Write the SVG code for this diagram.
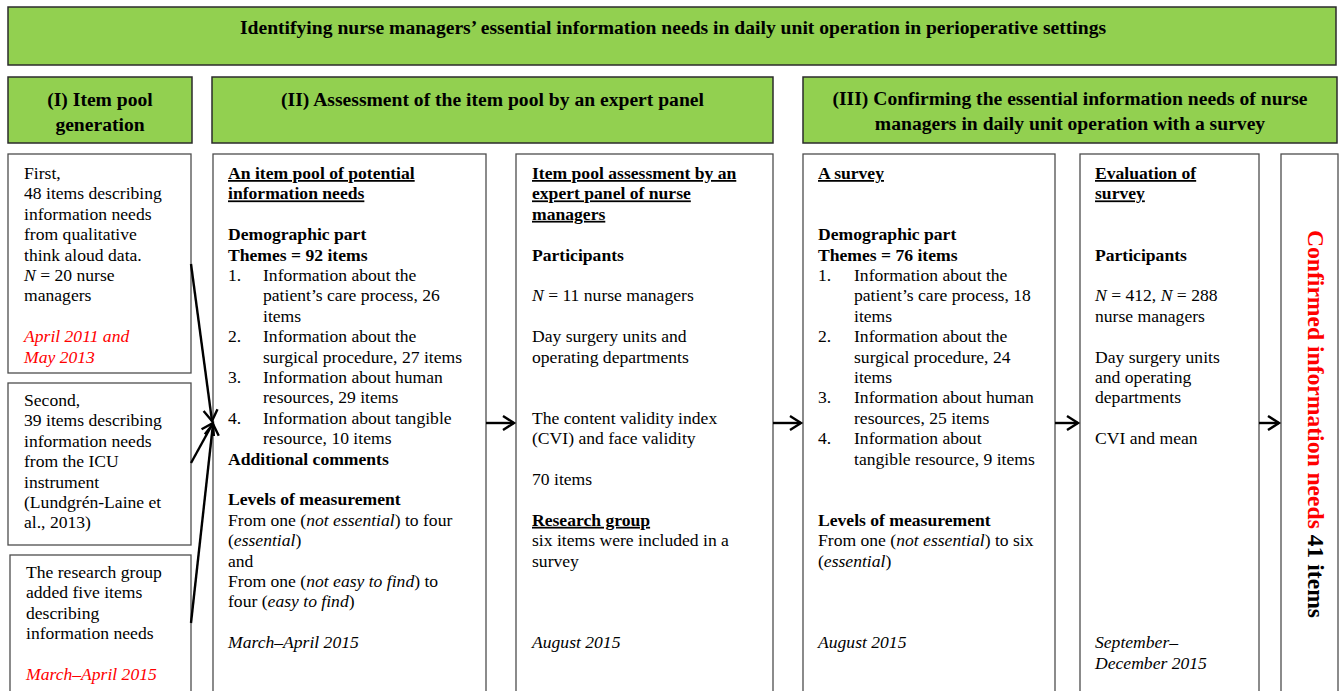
<svg xmlns="http://www.w3.org/2000/svg" width="1339" height="691" viewBox="0 0 1339 691">
<style>
.t{font-family:"Liberation Serif","Times New Roman",serif;font-size:17.6px;fill:#000}
.h{font-family:"Liberation Serif","Times New Roman",serif;font-size:19.6px;font-weight:bold;fill:#000;text-anchor:middle}
.b{font-weight:bold}
.u{text-decoration:underline}
.i{font-style:italic}
.r{fill:#ff0000}
.g{fill:#92d050;stroke:#2b2b2b;stroke-width:1.5}
.w{fill:#fff;stroke:#4d4d4d;stroke-width:1.3}
.c{stroke:#000;stroke-width:2.4;fill:none}
</style>
<defs>
<marker id="ah" markerUnits="userSpaceOnUse" markerWidth="16" markerHeight="18" viewBox="-13 -9 15 18" refX="0" refY="0" orient="auto">
<path d="M-11,-7 L0,0 L-11,7" fill="none" stroke="#000" stroke-width="2.4"/>
</marker>
</defs>
<rect width="1339" height="691" fill="#fff"/>

<g id="title">
<rect class="g" x="8" y="7" width="1328" height="58"/>
<text class="h" x="673" y="34">Identifying nurse managers’ essential information needs in daily unit operation in perioperative settings</text>
</g>

<g id="header-I">
<rect class="g" x="8" y="77" width="184" height="66"/>
<text class="h" x="100" y="106">(I) Item pool</text>
<text class="h" x="100" y="131">generation</text>
</g>

<g id="header-II">
<rect class="g" x="212" y="77" width="561" height="66"/>
<text class="h" x="492.5" y="106">(II) Assessment of the item pool by an expert panel</text>
</g>

<g id="header-III">
<rect class="g" x="803" y="77" width="534" height="66"/>
<text class="h" x="1070" y="105">(III) Confirming the essential information needs of nurse</text>
<text class="h" x="1070" y="130">managers in daily unit operation with a survey</text>
</g>

<g id="source-first">
<rect class="w" x="8" y="154" width="183" height="219"/>
<text class="t" x="24" y="179">First,</text>
<text class="t" x="24" y="199.4">48 items describing</text>
<text class="t" x="24" y="219.8">information needs</text>
<text class="t" x="24" y="240.2">from qualitative</text>
<text class="t" x="24" y="260.6">think aloud data.</text>
<text class="t" x="24" y="281"><tspan class="i">N</tspan> = 20 nurse</text>
<text class="t" x="24" y="301.4">managers</text>
<text class="t i r" x="24" y="342.2">April 2011 and</text>
<text class="t i r" x="24" y="362.6">May 2013</text>
</g>

<g id="source-second">
<rect class="w" x="8" y="383" width="183" height="162"/>
<text class="t" x="24" y="406">Second,</text>
<text class="t" x="24" y="426.4">39 items describing</text>
<text class="t" x="24" y="446.8">information needs</text>
<text class="t" x="24" y="467.2">from the ICU</text>
<text class="t" x="24" y="487.6">instrument</text>
<text class="t" x="24" y="508">(Lundgrén-Laine et</text>
<text class="t" x="24" y="528.4">al., 2013)</text>
</g>

<g id="source-research-group">
<rect class="w" x="10" y="555" width="181" height="145"/>
<text class="t" x="26" y="578">The research group</text>
<text class="t" x="26" y="598.4">added five items</text>
<text class="t" x="26" y="618.8">describing</text>
<text class="t" x="26" y="639.2">information needs</text>
<text class="t i r" x="26" y="680">March–April 2015</text>
</g>

<g id="item-pool">
<rect class="w" x="213" y="154" width="273" height="545"/>
<text class="t b u" x="228" y="179">An item pool of potential</text>
<text class="t b u" x="228" y="199.4">information needs</text>
<text class="t b" x="228" y="240.2">Demographic part</text>
<text class="t b" x="228" y="260.6">Themes = 92 items</text>
<text class="t" x="228" y="281">1.</text><text class="t" x="263" y="281">Information about the</text>
<text class="t" x="263" y="301.4">patient’s care process, 26</text>
<text class="t" x="263" y="321.8">items</text>
<text class="t" x="228" y="342.2">2.</text><text class="t" x="263" y="342.2">Information about the</text>
<text class="t" x="263" y="362.6">surgical procedure, 27 items</text>
<text class="t" x="228" y="383">3.</text><text class="t" x="263" y="383">Information about human</text>
<text class="t" x="263" y="403.4">resources, 29 items</text>
<text class="t" x="228" y="423.8">4.</text><text class="t" x="263" y="423.8">Information about tangible</text>
<text class="t" x="263" y="444.2">resource, 10 items</text>
<text class="t b" x="228" y="464.6">Additional comments</text>
<text class="t b" x="228" y="505.4">Levels of measurement</text>
<text class="t" x="228" y="525.8">From one (<tspan class="i">not essential</tspan>) to four</text>
<text class="t" x="228" y="546.2">(<tspan class="i">essential</tspan>)</text>
<text class="t" x="228" y="566.6">and</text>
<text class="t" x="228" y="587">From one (<tspan class="i">not easy to find</tspan>) to</text>
<text class="t" x="228" y="607.4">four (<tspan class="i">easy to find</tspan>)</text>
<text class="t i" x="228" y="648.2">March–April 2015</text>
</g>

<g id="expert-assessment">
<rect class="w" x="516" y="154" width="257" height="545"/>
<text class="t b u" x="532" y="179">Item pool assessment by an</text>
<text class="t b u" x="532" y="199.4">expert panel of nurse</text>
<text class="t b u" x="532" y="219.8">managers</text>
<text class="t b" x="532" y="260.6">Participants</text>
<text class="t" x="532" y="301.4"><tspan class="i">N</tspan> = 11 nurse managers</text>
<text class="t" x="532" y="342.2">Day surgery units and</text>
<text class="t" x="532" y="362.6">operating departments</text>
<text class="t" x="532" y="423.8">The content validity index</text>
<text class="t" x="532" y="444.2">(CVI) and face validity</text>
<text class="t" x="532" y="485">70 items</text>
<text class="t b u" x="532" y="525.8">Research group</text>
<text class="t" x="532" y="546.2">six items were included in a</text>
<text class="t" x="532" y="566.6">survey</text>
<text class="t i" x="532" y="648.2">August 2015</text>
</g>

<g id="survey">
<rect class="w" x="803" y="154" width="252" height="545"/>
<text class="t b u" x="818" y="179">A survey</text>
<text class="t b" x="818" y="240.2">Demographic part</text>
<text class="t b" x="818" y="260.6">Themes = 76 items</text>
<text class="t" x="818" y="281">1.</text><text class="t" x="854" y="281">Information about the</text>
<text class="t" x="854" y="301.4">patient’s care process, 18</text>
<text class="t" x="854" y="321.8">items</text>
<text class="t" x="818" y="342.2">2.</text><text class="t" x="854" y="342.2">Information about the</text>
<text class="t" x="854" y="362.6">surgical procedure, 24</text>
<text class="t" x="854" y="383">items</text>
<text class="t" x="818" y="403.4">3.</text><text class="t" x="854" y="403.4">Information about human</text>
<text class="t" x="854" y="423.8">resources, 25 items</text>
<text class="t" x="818" y="444.2">4.</text><text class="t" x="854" y="444.2">Information about</text>
<text class="t" x="854" y="464.6">tangible resource, 9 items</text>
<text class="t b" x="818" y="525.8">Levels of measurement</text>
<text class="t" x="818" y="546.2">From one (<tspan class="i">not essential</tspan>) to six</text>
<text class="t" x="818" y="566.6">(<tspan class="i">essential</tspan>)</text>
<text class="t i" x="818" y="648.2">August 2015</text>
</g>

<g id="survey-evaluation">
<rect class="w" x="1080" y="154" width="179" height="545"/>
<text class="t b u" x="1095" y="179">Evaluation of</text>
<text class="t b u" x="1095" y="199.4">survey</text>
<text class="t b" x="1095" y="260.6">Participants</text>
<text class="t" x="1095" y="301.4"><tspan class="i">N</tspan> = 412, <tspan class="i">N</tspan> = 288</text>
<text class="t" x="1095" y="321.8">nurse managers</text>
<text class="t" x="1095" y="362.6">Day surgery units</text>
<text class="t" x="1095" y="383">and operating</text>
<text class="t" x="1095" y="403.4">departments</text>
<text class="t" x="1095" y="444.2">CVI and mean</text>
<text class="t i" x="1095" y="648.2">September–</text>
<text class="t i" x="1095" y="668.6">December 2015</text>
</g>

<g id="result">
<rect class="w" x="1281" y="154" width="57" height="545"/>
<text transform="translate(1308,424) rotate(90)" text-anchor="middle" style="font-family:'Liberation Serif','Times New Roman',serif;font-size:23.6px;font-weight:bold"><tspan fill="#ff0000">Confirmed information needs</tspan><tspan fill="#000"> 41 items</tspan></text>
</g>

<g id="connectors">
<line class="c" x1="191" y1="264" x2="212" y2="421" marker-end="url(#ah)"/>
<line class="c" x1="191" y1="463" x2="213" y2="423" marker-end="url(#ah)"/>
<line class="c" x1="191" y1="623" x2="213" y2="424" marker-end="url(#ah)"/>
<line class="c" x1="486" y1="423" x2="514" y2="423" marker-end="url(#ah)"/>
<line class="c" x1="773" y1="423" x2="801" y2="423" marker-end="url(#ah)"/>
<line class="c" x1="1055" y1="423" x2="1078" y2="423" marker-end="url(#ah)"/>
<line class="c" x1="1259" y1="423" x2="1279" y2="423" marker-end="url(#ah)"/>
</g>
</svg>
